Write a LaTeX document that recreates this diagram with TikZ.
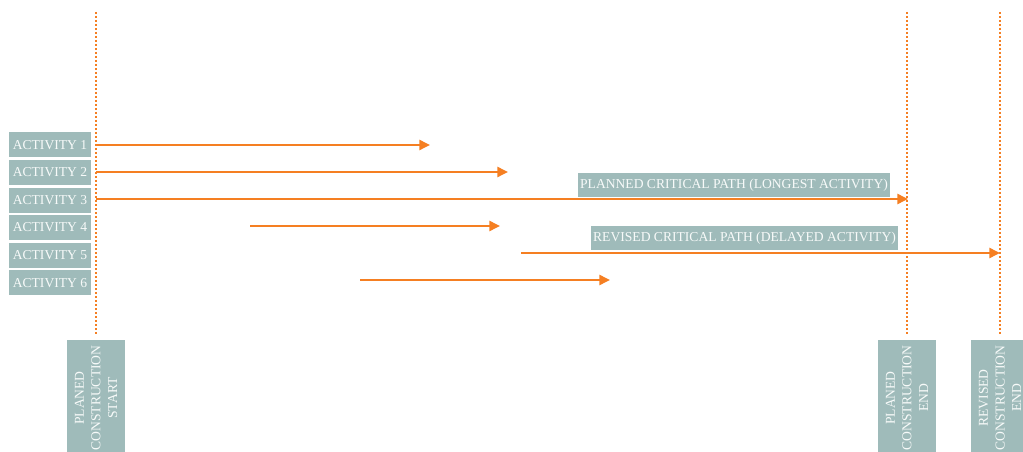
\documentclass[tikz,border=0pt]{standalone}
\usepackage{fontspec}
\setmainfont{Liberation Serif}
\usetikzlibrary{arrows.meta, positioning}
\definecolor{boxgrey}{HTML}{9FBBBA}
\definecolor{pathorange}{HTML}{F57F22}

\begin{document}
\begin{tikzpicture}[x=0.75pt, y=-0.75pt, node distance=1.5pt]
        \tikzstyle{activity} = [rectangle, fill=boxgrey, text=white!92!boxgrey, minimum width=61.5pt, minimum height=18.75pt, inner sep=1pt, font=\fontsize{10.2}{12}\selectfont]
        \tikzstyle{milestone} = [rectangle, fill=boxgrey, text=white!92!boxgrey, rotate=90, align=center, minimum width=87pt, minimum height=43.5pt, inner sep=1pt, font=\fontsize{10.2}{12.5}\selectfont]
        \tikzstyle{note} = [rectangle, fill=boxgrey, text=white!92!boxgrey, minimum height=18pt, inner sep=1pt, font=\fontsize{10.2}{12}\selectfont]
        \tikzstyle{timeline} = [draw=pathorange, line width=1.6pt, dash pattern=on 1.5pt off 1.5pt]
        \tikzstyle{line} = [draw=pathorange, line width=1.8pt, -{Triangle[length=8pt, width=7.5pt]}]

        \clip (0,0) rectangle (1023,452);

        % activities
        \node [activity] (act1) at (50,145) {ACTIVITY 1};
        \node [activity, below=of act1] (act2) {ACTIVITY 2};
        \node [activity, below=of act2] (act3) {ACTIVITY 3};
        \node [activity, below=of act3] (act4) {ACTIVITY 4};
        \node [activity, below=of act4] (act5) {ACTIVITY 5};
        \node [activity, below=of act5] (act6) {ACTIVITY 6};

        % milestones
        \node [milestone] (start) at (96,398) {PLANED\\CONSTRUCTION\\START};
        \node [milestone] (plannedend) at (907,398) {PLANED\\CONSTRUCTION\\END};
        \node [milestone] (revisedend) at (1000,398) {REVISED\\CONSTRUCTION\\END};

        \coordinate (starttop) at (96,12);
        \coordinate (plannedtop) at (907,12);
        \coordinate (revisedtop) at (1000,12);
        \path [timeline] (starttop) -- ([yshift=3.75pt]start.east);
        \path [timeline] (plannedtop) -- ([yshift=3.75pt]plannedend.east);
        \path [timeline] (revisedtop) -- ([yshift=3.75pt]revisedend.east);

        % critical path notes
        \node [note, minimum width=234pt] (plannednote) at (734,185) {PLANNED CRITICAL PATH (LONGEST ACTIVITY)};
        \node [note, minimum width=230pt] (revisednote) at (744.5,238) {REVISED CRITICAL PATH (DELAYED ACTIVITY)};

        % activity durations
        \coordinate (s1) at (96,145);   \coordinate (e1) at (430,145);
        \coordinate (s2) at (96,172);   \coordinate (e2) at (508,172);
        \coordinate (s3) at (96,199);   \coordinate (e3) at (908,199);
        \coordinate (s4) at (250,226);  \coordinate (e4) at (500,226);
        \coordinate (s5) at (521,253);  \coordinate (e5) at (1000,253);
        \coordinate (s6) at (360,280);  \coordinate (e6) at (610,280);
        \foreach \i in {1,...,6}
            \path [line] (s\i) -- (e\i);
    \end{tikzpicture}
\end{document}
